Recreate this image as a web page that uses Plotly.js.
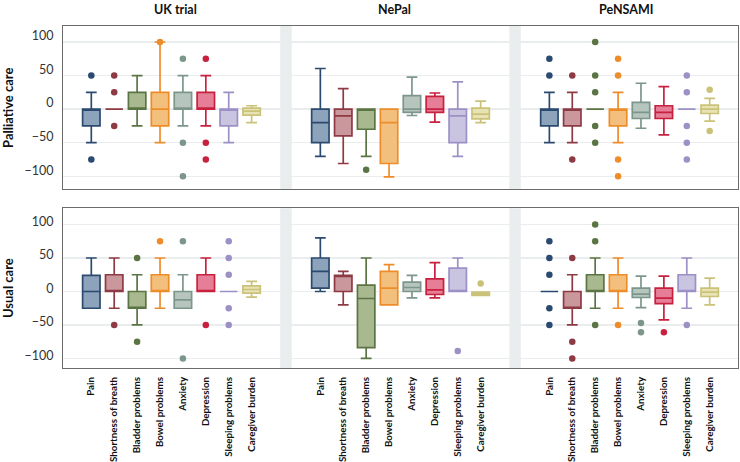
<!DOCTYPE html>
<html><head><meta charset="utf-8">
<script src="https://cdn.plot.ly/plotly-3.0.1.min.js"></script>
<style>html,body{margin:0;padding:0;background:#fff}#chart{width:740px;height:462px}</style>
</head><body><div id="chart"></div>
<script>
const categories = ['Pain','Shortness of breath','Bladder problems','Bowel problems','Anxiety','Depression','Sleeping problems','Caregiver burden'];
const studies = ['UK trial','NePal','PeNSAMI'];
const lineColors = ['#2b4a6f','#8e3a44','#5b7443','#ef8c2a','#7c968a','#c8213f','#9d90c6','#cbc27a'];
const fillColors = ['#8da2bb','#c9979c','#a9b98f','#f2c07c','#b7c5bf','#e57e96','#c9c4e0','#e8e3b5'];

// Palliative care: [study][category]
const palQ1 = [[-25,0,0,-25,0,0,-25,-9],[-50,-40,-30,-81,-5,-5,-50,-14.5],[-25,-25,0,-25,-14,-14,0,-6.5]];
const palMedian = [[0,0,0,0,0,0,0,-3],[-20,-10,0,-20,0,0,-10,-7.5],[0,0,0,0,-5,-5,0,0]];
const palQ3 = [[0,0,25,25,25,25,0,1.5],[0,0,0,0,20,19,0,1.5],[0,0,0,0,10,5,0,6]];
const palLow = [[-50,0,-25,-50,-25,-25,-50,-20],[-70.5,-81,-70.5,-101,-9.5,-19.5,-70.5,-20],[-50,-50,0,-50,-28.5,-38.5,0,-18]];
const palHigh = [[25,0,50,100,50,50,25,5],[60.5,30.5,0,0,47.5,24,40.5,12],[25,25,0,25,38.5,33.5,0,16]];
const palOutliers = [
  [[50,-75],[50,25,-25],[],[100],[75,-50,-100],[75,-50,-75],[],[]],
  [[],[],[-90.5],[],[],[],[],[]],
  [[75,50],[50,-75],[100,50,25,-25,-50],[75,50,-75,-100],[],[],[50,25,-25,-50,-75],[29,-32.5]]
];

// Usual care: [study][category]
const usQ1 = [[-25,0,-25,0,-25,0,0,-2.5],[5,0,-84,-20,0,-4.5,0,-6],[0,-25,0,0,-9,-18,0,-7.5]];
const usMedian = [[0,0,-25,0,-12.5,0,0,3],[30,24,-10.5,5,6,2.5,0,-3.5],[0,-25,0,0,-4,-10,0,-1]];
const usQ3 = [[24,25,0,25,0,25,0,8.5],[50,24,9.5,30,14,19,35,-1],[0,0,25,25,5,5,25,5]];
const usLow = [[-25,-25,-50,-25,-25,0,0,-8.5],[0,-20,-100,-20,-9.5,-9.5,0,-6],[0,-50,-25,-25,-24,-42.5,-25,-20]];
const usHigh = [[50,50,25,50,25,50,0,15],[80,30,50,40,24,43,50,-1],[0,25,50,50,23,23,50,20]];
const usOutliers = [
  [[],[-50],[50,-75],[75],[75,-100],[-50],[75,50,25,-25,-50],[]],
  [[],[],[],[],[],[],[-89],[12]],
  [[75,50,25,-25,-50],[50,-75,-100],[100,75,-50],[-50],[-47,-61],[-61],[-50],[]]
];

const GROUP_STEP = 10;
const pos = (si, ci) => si * GROUP_STEP + ci;

const traces = [];
function addRow(Q1, MED, Q3, LOW, HIGH, OUT, xa, ya) {
  categories.forEach((cat, ci) => {
    traces.push({
      type: 'box', orientation: 'v', xaxis: xa, yaxis: ya,
      x: studies.map((s, si) => pos(si, ci)),
      q1: studies.map((s, si) => Q1[si][ci]),
      median: studies.map((s, si) => MED[si][ci]),
      q3: studies.map((s, si) => Q3[si][ci]),
      lowerfence: studies.map((s, si) => LOW[si][ci]),
      upperfence: studies.map((s, si) => HIGH[si][ci]),
      width: 0.76, whiskerwidth: 0.62, boxpoints: false,
      fillcolor: fillColors[ci], line: {color: lineColors[ci], width: 1.7},
      hoverinfo: 'skip', showlegend: false
    });
    const ox = [], oy = [];
    studies.forEach((s, si) => OUT[si][ci].forEach(v => { ox.push(pos(si, ci)); oy.push(v); }));
    traces.push({
      type: 'scatter', mode: 'markers', xaxis: xa, yaxis: ya, x: ox, y: oy,
      marker: {color: lineColors[ci], size: 6.5}, hoverinfo: 'skip', showlegend: false
    });
  });
}
addRow(palQ1, palMedian, palQ3, palLow, palHigh, palOutliers, 'x2', 'y2');
addRow(usQ1, usMedian, usQ3, usLow, usHigh, usOutliers, 'x', 'y');

const tickvals = [], ticktext = [];
studies.forEach((s, si) => categories.forEach((c, ci) => { tickvals.push(pos(si, ci)); ticktext.push(c); }));

const xRange = [-1.236, 28.236];
const frame = {showline: true, mirror: true, linecolor: '#6b6b6b', linewidth: 1, zeroline: false};
const yCommon = Object.assign({}, frame, {
  tickvals: [-100, -50, 0, 50, 100], ticks: '', showgrid: true, gridcolor: '#e9eded', gridwidth: 1.5,
  tickfont: {family: 'Lato, sans-serif', size: 12.5, color: '#333'}, ticklabelstandoff: 6
});
const titleFont = {family: 'Lato, sans-serif', size: 13, color: '#111', weight: 'bold'};

const shapes = [];
[8.5, 18.5].forEach(c => ['y domain', 'y2 domain'].forEach((yr, k) => {
  shapes.push({type: 'rect', xref: k ? 'x2' : 'x', yref: yr, x0: c - 0.25, x1: c + 0.25, y0: 0, y1: 1,
    fillcolor: '#e9eded', line: {width: 0}, layer: 'below'});
}));

const headerX = [3.67, 13.22, 23.36];
const annotations = studies.map((s, si) => ({
  text: s, xref: 'x2', yref: 'paper', x: headerX[si], y: 1, yanchor: 'bottom', yshift: 7,
  showarrow: false, font: Object.assign({}, titleFont, {size: 12.5})
}));

const layout = {
  width: 740, height: 462,
  margin: {l: 63, r: 2, t: 26, b: 94},
  paper_bgcolor: '#fff', plot_bgcolor: '#fff',
  showlegend: false,
  xaxis: Object.assign({}, frame, {domain: [0, 1], anchor: 'y', range: xRange, tickvals: tickvals, ticktext: ticktext,
    tickangle: -90, ticks: '', showgrid: false, ticklabelstandoff: 4,
    tickfont: {family: 'Lato, sans-serif', size: 9.8, color: '#111', weight: 'bold'}}),
  xaxis2: Object.assign({}, frame, {domain: [0, 1], anchor: 'y2', range: xRange, matches: 'x', showticklabels: false, ticks: '', showgrid: false}),
  yaxis: Object.assign({}, yCommon, {domain: [0, 0.467], anchor: 'x', range: [-114.3, 124.3], ticklabelshift: -3,
    title: {text: 'Usual care', font: titleFont, standoff: 14}}),
  yaxis2: Object.assign({}, yCommon, {domain: [0.522, 1], anchor: 'x2', range: [-119.7, 123.8], ticklabelshift: -6,
    title: {text: 'Palliative care', font: titleFont, standoff: 14}}),
  shapes: shapes,
  annotations: annotations
};

Plotly.newPlot('chart', traces, layout, {displayModeBar: false, staticPlot: true});
</script>
</body></html>
